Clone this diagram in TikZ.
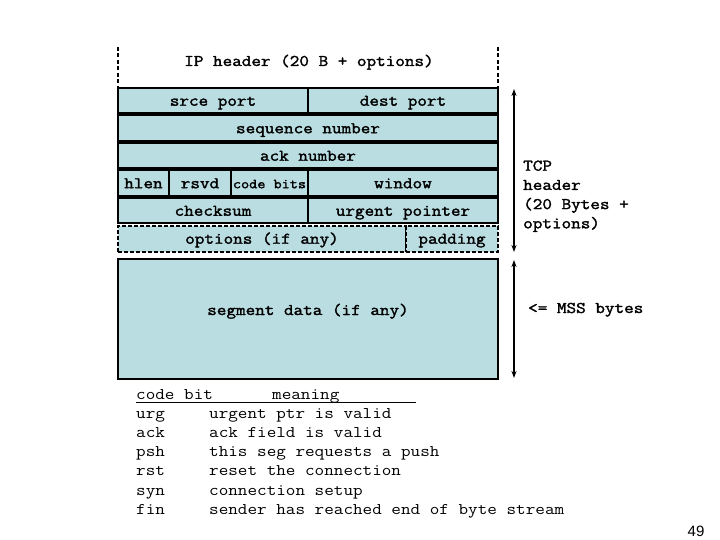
\documentclass[tikz,border=0pt]{standalone}
\usepackage{fontspec}
\newfontfamily\cour[FakeStretch=1.143]{Latin Modern Mono}
\newfontfamily\courb[FakeStretch=1.143, FakeBold=1.8]{Latin Modern Mono}
\newfontfamily\arialf{Liberation Sans}
\usetikzlibrary{arrows.meta}
\definecolor{segblue}{RGB}{185,221,225}
\tikzset{
  cell/.style={draw, fill=segblue, line width=2pt, minimum height=25.5pt, inner sep=0pt,
    text height=13pt, text depth=3pt,
    font=\courb\fontsize{16.3}{18}\selectfont},
  dcell/.style={cell, dashed, dash pattern=on 4pt off 2pt},
  lbl/.style={inner sep=0pt, font=\courb\fontsize{16.3}{19.2}\selectfont},
  tbl/.style={inner sep=0pt, anchor=base west, font=\cour\fontsize{16.3}{18}\selectfont},
  dim/.style={line width=1.5pt, {Stealth[length=7pt,width=5pt]}-{Stealth[length=7pt,width=5pt]}},
  ipline/.style={line width=1.5pt, dash pattern=on 4pt off 2.5pt}
}
\begin{document}
\begin{tikzpicture}[x=1pt,y=-1pt]
\useasboundingbox (0,0) rectangle (720,540);
% IP header
\coordinate (ipl1) at (118,47); \coordinate (ipl2) at (118,87);
\coordinate (ipr1) at (498,47); \coordinate (ipr2) at (498,87);
\draw[ipline] (ipl1) -- (ipl2);
\draw[ipline] (ipr1) -- (ipr2);
\node[lbl, anchor=base] (ip) at (309,66) {IP header (20 B + options)};
% rows
\node[cell, minimum width=190pt] (srce) at (213,100.75) {srce port};
\node[cell, minimum width=190pt] (dest) at (403,100.75) {dest port};
\node[cell, minimum width=380pt] (seq) at (308,128.25) {sequence number};
\node[cell, minimum width=380pt] (ack) at (308,155.75) {ack number};
\node[cell, minimum width=51pt] (hlen) at (143.5,183.25) {hlen};
\node[cell, minimum width=62pt] (rsvd) at (200,183.25) {rsvd};
\node[cell, minimum width=77pt, font=\courb\fontsize{13.8}{15}\selectfont] (code) at (269.5,183.25) {code bits};
\node[cell, minimum width=190pt] (win) at (403,183.25) {window};
\node[cell, minimum width=190pt] (chk) at (213,210.75) {checksum};
\node[cell, minimum width=190pt] (urg) at (403,210.75) {urgent pointer};
\node[dcell, minimum width=288pt] (opt) at (262,238.75) {options (if any)};
\node[dcell, minimum width=92pt] (pad) at (452,238.75) {padding};
\node[cell, minimum width=380pt, minimum height=120pt, text height=0pt, text depth=0pt] (seg) at (308,318.5) {};
\node[lbl, anchor=base] (segt) at (308,315) {segment data (if any)};
% dimension arrows
\coordinate (a1) at (514,89); \coordinate (a2) at (514,252);
\coordinate (b1) at (514,260); \coordinate (b2) at (514,378);
\draw[dim] (a1) -- (a2);
\draw[dim] (b1) -- (b2);
\node[lbl, anchor=base west] (tcp1) at (523,170.7) {TCP};
\node[lbl, anchor=base west] (tcp2) at (523,189.9) {header};
\node[lbl, anchor=base west] (tcp3) at (523,209.1) {(20 Bytes +};
\node[lbl, anchor=base west] (tcp4) at (523,228.3) {options)};
\node[lbl, anchor=base west] (mss) at (528,313) {<= MSS bytes};
% table
\node[tbl] (h1) at (136,399) {code bit};
\node[tbl] (h2) at (272,399) {meaning};
\coordinate (u1) at (136,402.5); \coordinate (u2) at (416,402.5);
\draw[line width=1pt] (u1) -- (u2);
\node[tbl] (t1a) at (136,418.3) {urg}; \node[tbl] (t1b) at (209,418.3) {urgent ptr is valid};
\node[tbl] (t2a) at (136,437.5) {ack}; \node[tbl] (t2b) at (209,437.5) {ack field is valid};
\node[tbl] (t3a) at (136,456.7) {psh}; \node[tbl] (t3b) at (209,456.7) {this seg requests a push};
\node[tbl] (t4a) at (136,475.9) {rst}; \node[tbl] (t4b) at (209,475.9) {reset the connection};
\node[tbl] (t5a) at (136,495.1) {syn}; \node[tbl] (t5b) at (209,495.1) {connection setup};
\node[tbl] (t6a) at (136,514.3) {fin}; \node[tbl] (t6b) at (209,514.3) {sender has reached end of byte stream};
\node[inner sep=0pt, anchor=base, font=\arialf\fontsize{15}{17}\selectfont] (pg) at (696,536) {49};
\end{tikzpicture}
\end{document}
